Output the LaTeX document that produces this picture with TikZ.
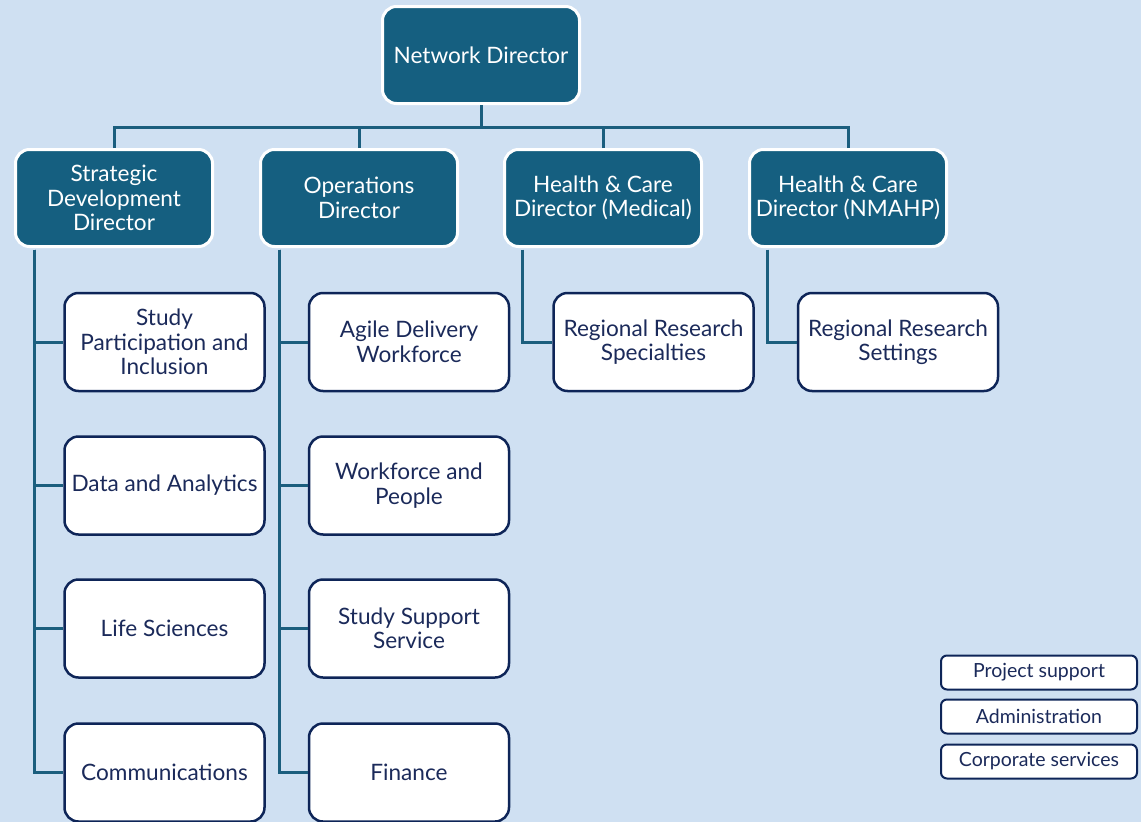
\documentclass[tikz,border=0pt]{standalone}
\usepackage{fontspec}
\setmainfont{Lato}
\definecolor{bgblue}{RGB}{207,224,242}
\definecolor{darkteal}{RGB}{21,95,128}
\definecolor{linkcol}{RGB}{27,94,126}
\definecolor{navy}{RGB}{14,37,88}
\definecolor{navytext}{RGB}{27,42,90}
\begin{document}
\begin{tikzpicture}[x=1pt,y=-1pt,
  dirbox/.style={draw=white,fill=darkteal,line width=3pt,rounded corners=14pt,
    minimum width=197pt,minimum height=97pt,align=center,text=white,
    font=\fontsize{22.6}{24.5}\selectfont,inner sep=2pt},
  unitbox/.style={draw=navy,fill=white,line width=2.5pt,rounded corners=14pt,
    minimum width=200pt,minimum height=98pt,align=center,text=navytext,
    font=\fontsize{22.6}{24.5}\selectfont,inner sep=2pt},
  legbox/.style={draw=navy,fill=white,line width=2pt,rounded corners=6pt,
    minimum width=196pt,minimum height=34pt,align=center,text=navytext,
    font=\fontsize{19.5}{22}\selectfont,inner sep=1pt},
  link/.style={draw=linkcol,line width=3pt}]
\useasboundingbox (0,0) rectangle (1141,822);
\fill[bgblue] (0,0) rectangle (1141,822);

\node[dirbox] (nd) at (481,55) {Network Director};
\node[dirbox] (s1) at (114,198) {Strategic\\Development\\Director};
\node[dirbox] (s2) at (359,198) {Operations\\Director};
\node[dirbox] (s3) at (603,198) {Health \& Care\\Director (Medical)};
\node[dirbox] (s4) at (848,198) {Health \& Care\\Director (NMAHP)};

\node[unitbox] (a1) at (164.5,342) {Study\\Participation and\\Inclusion};
\node[unitbox] (a2) at (164.5,485.5) {Data and Analytics};
\node[unitbox] (a3) at (164.5,628.5) {Life Sciences};
\node[unitbox] (a4) at (164.5,772.5) {Communications};

\node[unitbox] (b1) at (409,342) {Agile Delivery\\Workforce};
\node[unitbox] (b2) at (409,485.5) {Workforce and\\People};
\node[unitbox] (b3) at (409,628.5) {Study Support\\Service};
\node[unitbox] (b4) at (409,772.5) {Finance};

\node[unitbox] (c1) at (653.5,342) {Regional Research\\Specialties};
\node[unitbox] (d1) at (898,342) {Regional Research\\Settings};

\node[legbox] (l1) at (1039,672.5) {\raisebox{-2.5pt}{Project support}};
\node[legbox] (l2) at (1039,716.5) {\raisebox{-2.5pt}{Administration}};
\node[legbox] (l3) at (1039,761.5) {\raisebox{-2.5pt}{Corporate services}};

\coordinate (bus) at (481,127);
\coordinate (t1) at (34,249.5);
\coordinate (t2) at (279,249.5);
\coordinate (t3) at (522,249.5);
\coordinate (t4) at (767,249.5);

\draw[link] (nd.south) -- (bus);
\draw[link] (s1.north) |- (bus);
\draw[link] (s2.north) |- (bus);
\draw[link] (s3.north) |- (bus);
\draw[link] (s4.north) |- (bus);

\draw[link] (t1) |- (a1.west);
\draw[link] (t1) |- (a2.west);
\draw[link] (t1) |- (a3.west);
\draw[link] (t1) |- (a4.west);
\draw[link] (t2) |- (b1.west);
\draw[link] (t2) |- (b2.west);
\draw[link] (t2) |- (b3.west);
\draw[link] (t2) |- (b4.west);
\draw[link] (t3) |- (c1.west);
\draw[link] (t4) |- (d1.west);
\end{tikzpicture}
\end{document}
